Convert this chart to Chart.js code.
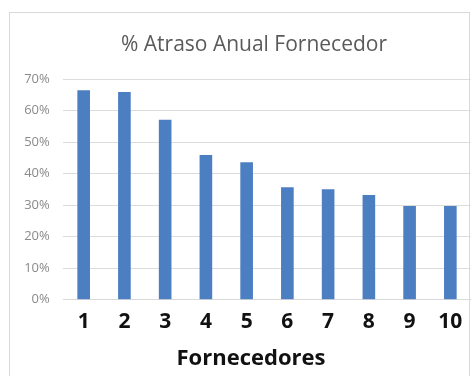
<!DOCTYPE html>
<html>
<head>
<meta charset="utf-8">
<script src="https://cdn.jsdelivr.net/npm/chart.js@4"></script>
<style>
  html, body { margin: 0; padding: 0; background: #ffffff; }
  #wrap { width: 472px; height: 376px; position: relative; }
</style>
</head>
<body>
<div id="wrap"><canvas id="c" width="472" height="376"></canvas></div>
<script>
const categories = ['1', '2', '3', '4', '5', '6', '7', '8', '9', '10'];
const atrasoValues = [66.4, 65.9, 57.1, 45.9, 43.6, 35.7, 35.0, 33.2, 29.7, 29.7];
const yTickValues = [0, 10, 20, 30, 40, 50, 60, 70];
const chartTitle = '% Atraso Anual Fornecedor';
const xAxisTitle = 'Fornecedores';

const frame = {
  id: 'frame',
  beforeDraw(chart) {
    const ctx = chart.ctx;
    ctx.save();
    ctx.fillStyle = '#ffffff';
    ctx.fillRect(0, 0, chart.width, chart.height);
    ctx.strokeStyle = '#d9d9d9';
    ctx.lineWidth = 1;
    ctx.strokeRect(9.5, 12.5, 460, 380);
    ctx.restore();
  },
  afterDraw(chart) {
    const ctx = chart.ctx;
    ctx.save();
    ctx.textAlign = 'center';
    ctx.textBaseline = 'middle';
    ctx.fillStyle = '#5a5a5a';
    ctx.font = '21px "Open Sans"';
    ctx.fillText(chartTitle, 254, 44.6);
    ctx.fillStyle = '#111111';
    ctx.font = 'bold 22px "Open Sans"';
    ctx.fillText(xAxisTitle, 251, 359);
    ctx.restore();
  }
};

new Chart(document.getElementById('c'), {
  type: 'bar',
  data: {
    labels: categories,
    datasets: [{
      data: atrasoValues,
      backgroundColor: '#4c7ec2',
      barPercentage: 0.31,
      categoryPercentage: 1.0
    }]
  },
  options: {
    responsive: false,
    animation: false,
    devicePixelRatio: 1,
    layout: { padding: { left: 0, right: 1, top: 79, bottom: 31.9 } },
    plugins: {
      legend: { display: false },
      tooltip: { enabled: false },
      title: { display: false }
    },
    scales: {
      x: {
        grid: { display: false, drawTicks: false },
        border: { display: true, color: '#d9d9d9' },
        ticks: {
          color: '#111111',
          font: { family: 'Open Sans', size: 21, weight: 'bold' },
          padding: 9.6,
          maxRotation: 0
        },
        title: { display: false }
      },
      y: {
        min: 0,
        max: 70,
        afterFit(scale) { scale.width = 63.3; },
        afterBuildTicks(scale) { scale.ticks = yTickValues.map(v => ({ value: v })); },
        grid: { color: '#dcdcdc', drawTicks: false },
        border: { display: false },
        ticks: {
          color: '#8a8a8a',
          font: { family: 'Open Sans', size: 13 },
          padding: 13.5,
          callback: v => v + '%'
        }
      }
    }
  },
  plugins: [frame]
});
</script>
</body>
</html>
